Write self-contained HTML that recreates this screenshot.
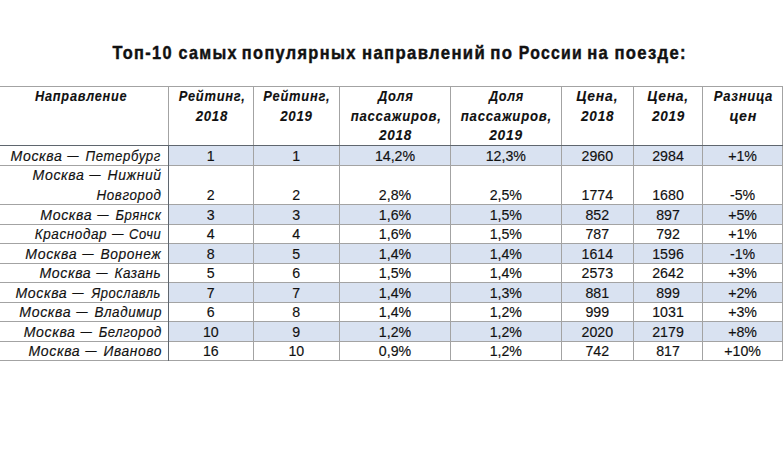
<!DOCTYPE html>
<html><head><meta charset="utf-8"><style>
html,body{margin:0;padding:0;background:#fff;}
body{width:783px;height:465px;overflow:hidden;}
svg{display:block;}
text{font-family:"Liberation Sans",sans-serif;fill:#111;stroke:#111;stroke-width:0.15px;}
.ti{font-weight:bold;font-size:18.5px;stroke-width:0.45px;}
.bi{font-weight:bold;font-style:italic;font-size:14.2px;stroke-width:0.1px;}
.it{font-style:italic;font-size:13.9px;}
.rg{font-size:14.2px;}
</style></head><body>
<svg width="783" height="465" viewBox="0 0 783 465">
<rect x="169" y="146" width="613" height="19" fill="#d9e2f1"/>
<rect x="169" y="205" width="613" height="19" fill="#d9e2f1"/>
<rect x="169" y="244" width="613" height="19" fill="#d9e2f1"/>
<rect x="169" y="283" width="613" height="19" fill="#d9e2f1"/>
<rect x="169" y="322" width="613" height="19" fill="#d9e2f1"/>
<rect x="0" y="86" width="783" height="1" fill="#a3a3a3"/>
<rect x="0" y="145" width="783" height="1" fill="#a3a3a3"/>
<rect x="0" y="165" width="783" height="1" fill="#a3a3a3"/>
<rect x="0" y="204" width="783" height="1" fill="#a3a3a3"/>
<rect x="0" y="224" width="783" height="1" fill="#a3a3a3"/>
<rect x="0" y="243" width="783" height="1" fill="#a3a3a3"/>
<rect x="0" y="263" width="783" height="1" fill="#a3a3a3"/>
<rect x="0" y="282" width="783" height="1" fill="#a3a3a3"/>
<rect x="0" y="302" width="783" height="1" fill="#a3a3a3"/>
<rect x="0" y="321" width="783" height="1" fill="#a3a3a3"/>
<rect x="0" y="341" width="783" height="1" fill="#a3a3a3"/>
<rect x="0" y="360" width="783" height="1" fill="#a3a3a3"/>
<rect x="168" y="86" width="1" height="59" fill="#a3a3a3"/>
<rect x="168" y="145" width="1" height="216" fill="#5f666e"/>
<rect x="253" y="86" width="1" height="275" fill="#a3a3a3"/>
<rect x="339" y="86" width="1" height="275" fill="#a3a3a3"/>
<rect x="450" y="86" width="1" height="275" fill="#a3a3a3"/>
<rect x="561" y="86" width="1" height="275" fill="#a3a3a3"/>
<rect x="633" y="86" width="1" height="275" fill="#a3a3a3"/>
<rect x="702" y="86" width="1" height="275" fill="#a3a3a3"/>
<rect x="782" y="86" width="1" height="275" fill="#a3a3a3"/>
<rect x="0" y="145" width="783" height="1" fill="#5f666e"/>
<text x="112.54" y="58.7" class="ti" style="letter-spacing:1.5px" textLength="60.39" lengthAdjust="spacingAndGlyphs">Топ-10</text>
<text x="178.56" y="58.7" class="ti" style="letter-spacing:1.5px" textLength="59.30" lengthAdjust="spacingAndGlyphs">самых</text>
<text x="241.86" y="58.7" class="ti" style="letter-spacing:1.5px" textLength="114.74" lengthAdjust="spacingAndGlyphs">популярных</text>
<text x="362.03" y="58.7" class="ti" style="letter-spacing:1.5px" textLength="124.08" lengthAdjust="spacingAndGlyphs">направлений</text>
<text x="490.33" y="58.7" class="ti" style="letter-spacing:1.5px" textLength="23.10" lengthAdjust="spacingAndGlyphs">по</text>
<text x="518.77" y="58.7" class="ti" style="letter-spacing:1.5px" textLength="64.24" lengthAdjust="spacingAndGlyphs">России</text>
<text x="587.24" y="58.7" class="ti" style="letter-spacing:1.5px" textLength="21.94" lengthAdjust="spacingAndGlyphs">на</text>
<text x="614.44" y="58.7" class="ti" style="letter-spacing:1.5px" textLength="72.53" lengthAdjust="spacingAndGlyphs">поезде:</text>
<text x="35.04" y="101.2" class="bi" style="letter-spacing:0.8px" textLength="92.31" lengthAdjust="spacingAndGlyphs">Направление</text>
<text x="178.74" y="101.2" class="bi" style="letter-spacing:0.8px" textLength="66.93" lengthAdjust="spacingAndGlyphs">Рейтинг,</text>
<text x="195.70" y="121" class="bi" style="letter-spacing:0.8px" textLength="32.34" lengthAdjust="spacingAndGlyphs">2018</text>
<text x="263.34" y="101.2" class="bi" style="letter-spacing:0.8px" textLength="66.93" lengthAdjust="spacingAndGlyphs">Рейтинг,</text>
<text x="280.20" y="121" class="bi" style="letter-spacing:0.8px" textLength="32.51" lengthAdjust="spacingAndGlyphs">2019</text>
<text x="377.90" y="101.2" class="bi" style="letter-spacing:0.8px" textLength="35.77" lengthAdjust="spacingAndGlyphs">Доля</text>
<text x="350.74" y="121" class="bi" style="letter-spacing:0.8px" textLength="90.84" lengthAdjust="spacingAndGlyphs">пассажиров,</text>
<text x="378.90" y="140.3" class="bi" style="letter-spacing:0.8px" textLength="33.16" lengthAdjust="spacingAndGlyphs">2018</text>
<text x="488.89" y="101.2" class="bi" style="letter-spacing:0.8px" textLength="35.07" lengthAdjust="spacingAndGlyphs">Доля</text>
<text x="460.74" y="121" class="bi" style="letter-spacing:0.8px" textLength="91.15" lengthAdjust="spacingAndGlyphs">пассажиров,</text>
<text x="489.21" y="140.3" class="bi" style="letter-spacing:0.8px" textLength="33.63" lengthAdjust="spacingAndGlyphs">2019</text>
<text x="576.32" y="101.2" class="bi" style="letter-spacing:0.8px" textLength="42.00" lengthAdjust="spacingAndGlyphs">Цена,</text>
<text x="581.00" y="121" class="bi" style="letter-spacing:0.8px" textLength="33.26" lengthAdjust="spacingAndGlyphs">2018</text>
<text x="647.22" y="101.2" class="bi" style="letter-spacing:0.8px" textLength="41.79" lengthAdjust="spacingAndGlyphs">Цена,</text>
<text x="651.90" y="121" class="bi" style="letter-spacing:0.8px" textLength="33.22" lengthAdjust="spacingAndGlyphs">2019</text>
<text x="713.74" y="101.2" class="bi" style="letter-spacing:0.8px" textLength="59.42" lengthAdjust="spacingAndGlyphs">Разница</text>
<text x="729.43" y="121" class="bi" style="letter-spacing:0.8px" textLength="27.63" lengthAdjust="spacingAndGlyphs">цен</text>
<text x="10.58" y="160.8" class="it" style="letter-spacing:0.6px" textLength="51.86" lengthAdjust="spacingAndGlyphs">Москва</text>
<text x="67.36" y="159.8" class="it" textLength="11.39" lengthAdjust="spacingAndGlyphs">—</text>
<text x="85.60" y="160.8" class="it" style="letter-spacing:0.6px" textLength="75.30" lengthAdjust="spacingAndGlyphs">Петербург</text>
<text x="210.8" y="160.8" class="rg" text-anchor="middle">1</text>
<text x="296.3" y="160.8" class="rg" text-anchor="middle">1</text>
<text x="395" y="160.8" class="rg" text-anchor="middle">14,2%</text>
<text x="505.8" y="160.8" class="rg" text-anchor="middle">12,3%</text>
<text x="597.3" y="160.8" class="rg" text-anchor="middle">2960</text>
<text x="668" y="160.8" class="rg" text-anchor="middle">2984</text>
<text x="742.6" y="160.8" class="rg" text-anchor="middle">+1%</text>
<text x="32.58" y="180.3" class="it" style="letter-spacing:0.6px" textLength="51.86" lengthAdjust="spacingAndGlyphs">Москва</text>
<text x="89.36" y="179.3" class="it" textLength="11.39" lengthAdjust="spacingAndGlyphs">—</text>
<text x="107.58" y="180.3" class="it" style="letter-spacing:0.6px" textLength="53.98" lengthAdjust="spacingAndGlyphs">Нижний</text>
<text x="96.60" y="199.8" class="it" style="letter-spacing:0.6px" textLength="64.93" lengthAdjust="spacingAndGlyphs">Новгород</text>
<text x="210.8" y="199.8" class="rg" text-anchor="middle">2</text>
<text x="296.3" y="199.8" class="rg" text-anchor="middle">2</text>
<text x="395" y="199.8" class="rg" text-anchor="middle">2,8%</text>
<text x="505.8" y="199.8" class="rg" text-anchor="middle">2,5%</text>
<text x="597.3" y="199.8" class="rg" text-anchor="middle">1774</text>
<text x="668" y="199.8" class="rg" text-anchor="middle">1680</text>
<text x="742.6" y="199.8" class="rg" text-anchor="middle">-5%</text>
<text x="40.38" y="219.8" class="it" style="letter-spacing:0.6px" textLength="51.86" lengthAdjust="spacingAndGlyphs">Москва</text>
<text x="97.16" y="218.8" class="it" textLength="11.39" lengthAdjust="spacingAndGlyphs">—</text>
<text x="115.41" y="219.8" class="it" style="letter-spacing:0.6px" textLength="46.00" lengthAdjust="spacingAndGlyphs">Брянск</text>
<text x="210.8" y="219.8" class="rg" text-anchor="middle">3</text>
<text x="296.3" y="219.8" class="rg" text-anchor="middle">3</text>
<text x="395" y="219.8" class="rg" text-anchor="middle">1,6%</text>
<text x="505.8" y="219.8" class="rg" text-anchor="middle">1,5%</text>
<text x="597.3" y="219.8" class="rg" text-anchor="middle">852</text>
<text x="668" y="219.8" class="rg" text-anchor="middle">897</text>
<text x="742.6" y="219.8" class="rg" text-anchor="middle">+5%</text>
<text x="34.69" y="238.8" class="it" style="letter-spacing:0.6px" textLength="72.44" lengthAdjust="spacingAndGlyphs">Краснодар</text>
<text x="112.06" y="237.8" class="it" textLength="11.58" lengthAdjust="spacingAndGlyphs">—</text>
<text x="129.08" y="238.8" class="it" style="letter-spacing:0.6px" textLength="32.27" lengthAdjust="spacingAndGlyphs">Сочи</text>
<text x="210.8" y="238.8" class="rg" text-anchor="middle">4</text>
<text x="296.3" y="238.8" class="rg" text-anchor="middle">4</text>
<text x="395" y="238.8" class="rg" text-anchor="middle">1,6%</text>
<text x="505.8" y="238.8" class="rg" text-anchor="middle">1,5%</text>
<text x="597.3" y="238.8" class="rg" text-anchor="middle">787</text>
<text x="668" y="238.8" class="rg" text-anchor="middle">792</text>
<text x="742.6" y="238.8" class="rg" text-anchor="middle">+1%</text>
<text x="25.38" y="258.8" class="it" style="letter-spacing:0.6px" textLength="51.86" lengthAdjust="spacingAndGlyphs">Москва</text>
<text x="82.16" y="257.8" class="it" textLength="11.39" lengthAdjust="spacingAndGlyphs">—</text>
<text x="100.39" y="258.8" class="it" style="letter-spacing:0.6px" textLength="60.98" lengthAdjust="spacingAndGlyphs">Воронеж</text>
<text x="210.8" y="258.8" class="rg" text-anchor="middle">8</text>
<text x="296.3" y="258.8" class="rg" text-anchor="middle">5</text>
<text x="395" y="258.8" class="rg" text-anchor="middle">1,4%</text>
<text x="505.8" y="258.8" class="rg" text-anchor="middle">1,4%</text>
<text x="597.3" y="258.8" class="rg" text-anchor="middle">1614</text>
<text x="668" y="258.8" class="rg" text-anchor="middle">1596</text>
<text x="742.6" y="258.8" class="rg" text-anchor="middle">-1%</text>
<text x="39.48" y="277.8" class="it" style="letter-spacing:0.6px" textLength="51.86" lengthAdjust="spacingAndGlyphs">Москва</text>
<text x="96.26" y="276.8" class="it" textLength="11.39" lengthAdjust="spacingAndGlyphs">—</text>
<text x="114.50" y="277.8" class="it" style="letter-spacing:0.6px" textLength="46.79" lengthAdjust="spacingAndGlyphs">Казань</text>
<text x="210.8" y="277.8" class="rg" text-anchor="middle">5</text>
<text x="296.3" y="277.8" class="rg" text-anchor="middle">6</text>
<text x="395" y="277.8" class="rg" text-anchor="middle">1,5%</text>
<text x="505.8" y="277.8" class="rg" text-anchor="middle">1,4%</text>
<text x="597.3" y="277.8" class="rg" text-anchor="middle">2573</text>
<text x="668" y="277.8" class="rg" text-anchor="middle">2642</text>
<text x="742.6" y="277.8" class="rg" text-anchor="middle">+3%</text>
<text x="15.48" y="297.8" class="it" style="letter-spacing:0.6px" textLength="51.86" lengthAdjust="spacingAndGlyphs">Москва</text>
<text x="72.26" y="296.8" class="it" textLength="11.39" lengthAdjust="spacingAndGlyphs">—</text>
<text x="91.42" y="297.8" class="it" style="letter-spacing:0.6px" textLength="69.55" lengthAdjust="spacingAndGlyphs">Ярославль</text>
<text x="210.8" y="297.8" class="rg" text-anchor="middle">7</text>
<text x="296.3" y="297.8" class="rg" text-anchor="middle">7</text>
<text x="395" y="297.8" class="rg" text-anchor="middle">1,4%</text>
<text x="505.8" y="297.8" class="rg" text-anchor="middle">1,3%</text>
<text x="597.3" y="297.8" class="rg" text-anchor="middle">881</text>
<text x="668" y="297.8" class="rg" text-anchor="middle">899</text>
<text x="742.6" y="297.8" class="rg" text-anchor="middle">+2%</text>
<text x="19.38" y="316.8" class="it" style="letter-spacing:0.6px" textLength="51.86" lengthAdjust="spacingAndGlyphs">Москва</text>
<text x="76.16" y="315.8" class="it" textLength="11.39" lengthAdjust="spacingAndGlyphs">—</text>
<text x="94.40" y="316.8" class="it" style="letter-spacing:0.6px" textLength="67.77" lengthAdjust="spacingAndGlyphs">Владимир</text>
<text x="210.8" y="316.8" class="rg" text-anchor="middle">6</text>
<text x="296.3" y="316.8" class="rg" text-anchor="middle">8</text>
<text x="395" y="316.8" class="rg" text-anchor="middle">1,4%</text>
<text x="505.8" y="316.8" class="rg" text-anchor="middle">1,2%</text>
<text x="597.3" y="316.8" class="rg" text-anchor="middle">999</text>
<text x="668" y="316.8" class="rg" text-anchor="middle">1031</text>
<text x="742.6" y="316.8" class="rg" text-anchor="middle">+3%</text>
<text x="23.68" y="336.8" class="it" style="letter-spacing:0.6px" textLength="51.86" lengthAdjust="spacingAndGlyphs">Москва</text>
<text x="80.46" y="335.8" class="it" textLength="11.39" lengthAdjust="spacingAndGlyphs">—</text>
<text x="98.70" y="336.8" class="it" style="letter-spacing:0.6px" textLength="63.28" lengthAdjust="spacingAndGlyphs">Белгород</text>
<text x="210.8" y="336.8" class="rg" text-anchor="middle">10</text>
<text x="296.3" y="336.8" class="rg" text-anchor="middle">9</text>
<text x="395" y="336.8" class="rg" text-anchor="middle">1,2%</text>
<text x="505.8" y="336.8" class="rg" text-anchor="middle">1,2%</text>
<text x="597.3" y="336.8" class="rg" text-anchor="middle">2020</text>
<text x="668" y="336.8" class="rg" text-anchor="middle">2179</text>
<text x="742.6" y="336.8" class="rg" text-anchor="middle">+8%</text>
<text x="28.48" y="355.8" class="it" style="letter-spacing:0.6px" textLength="51.86" lengthAdjust="spacingAndGlyphs">Москва</text>
<text x="85.26" y="354.8" class="it" textLength="11.39" lengthAdjust="spacingAndGlyphs">—</text>
<text x="103.49" y="355.8" class="it" style="letter-spacing:0.6px" textLength="58.51" lengthAdjust="spacingAndGlyphs">Иваново</text>
<text x="210.8" y="355.8" class="rg" text-anchor="middle">16</text>
<text x="296.3" y="355.8" class="rg" text-anchor="middle">10</text>
<text x="395" y="355.8" class="rg" text-anchor="middle">0,9%</text>
<text x="505.8" y="355.8" class="rg" text-anchor="middle">1,2%</text>
<text x="597.3" y="355.8" class="rg" text-anchor="middle">742</text>
<text x="668" y="355.8" class="rg" text-anchor="middle">817</text>
<text x="742.6" y="355.8" class="rg" text-anchor="middle">+10%</text>
</svg>
</body></html>
